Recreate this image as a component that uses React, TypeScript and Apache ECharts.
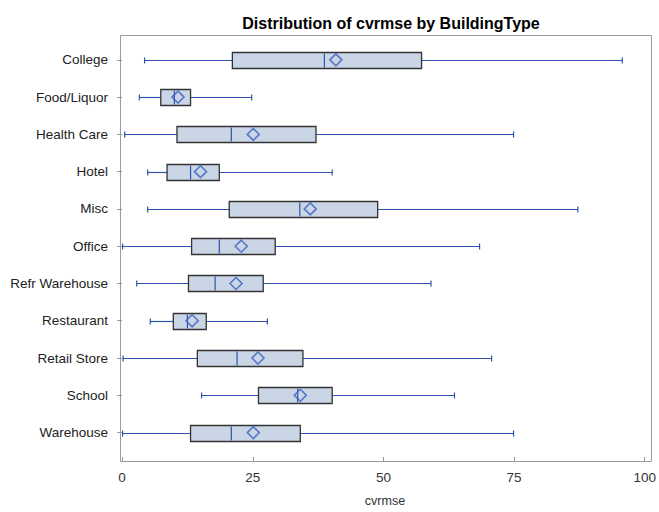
import React, { useEffect, useRef } from "react";
import * as echarts from "echarts";

const categories = [
  "College", "Food/Liquor", "Health Care", "Hotel", "Misc", "Office",
  "Refr Warehouse", "Restaurant", "Retail Store", "School", "Warehouse",
];
// [low whisker, Q1, median, Q3, high whisker]
const boxStats: number[][] = [
  [4.3, 21.1, 38.7, 57.3, 95.7],
  [3.3, 7.4, 10.0, 13.1, 24.8],
  [0.5, 10.5, 20.9, 37.1, 74.9],
  [4.9, 8.6, 13.1, 18.6, 40.2],
  [4.9, 20.5, 34.0, 48.9, 87.2],
  [0.1, 13.3, 18.6, 29.3, 68.4],
  [2.8, 12.7, 17.8, 27.0, 59.1],
  [5.4, 9.8, 12.5, 16.1, 27.8],
  [0.2, 14.4, 22.0, 34.6, 70.7],
  [15.2, 26.1, 33.6, 40.2, 63.6],
  [0.1, 13.1, 20.9, 34.1, 74.9],
];
const means = [40.9, 10.7, 25.1, 15.0, 36.0, 22.8, 21.8, 13.4, 26.0, 34.1, 25.1];
const xTicks = [0, 25, 50, 75, 100];

const FONT = "'Liberation Sans', Arial, sans-serif";
const LINE_BLUE = "#2f52b0";
const FILL = "#cad6e6";

export default function App() {
  const ref = useRef<HTMLDivElement>(null);
  useEffect(() => {
    if (!ref.current) return;
    const chart = echarts.init(ref.current, undefined, { renderer: "svg" });
    const option: any = {
      animation: false,
      backgroundColor: "#fff",
      title: {
        text: "Distribution of cvrmse by BuildingType",
        left: 386,
        textAlign: "center",
        top: 10,
        textStyle: { fontFamily: FONT, fontSize: 16, fontWeight: "bold", color: "#000" },
      },
      graphic: {
        elements: [
          {
            type: "rect",
            shape: { x: 120.5, y: 35.5, width: 531, height: 426 },
            style: { fill: "rgba(0,0,0,0)", stroke: "#9c9c9c", lineWidth: 1 },
            silent: true,
            z: 100,
          },
        ],
      },
      grid: { left: 120, right: 7, top: 41.2, bottom: 56.1, containLabel: false },
      xAxis: {
        type: "value",
        min: -0.4,
        max: 101,
        offset: 5.8,
        name: "cvrmse",
        nameLocation: "middle",
        nameGap: 37,
        nameTextStyle: { fontFamily: FONT, fontSize: 12.5, color: "#333" },
        axisLine: { show: false },
        axisTick: { show: true, length: 5, customValues: xTicks, lineStyle: { color: "#999" } },
        axisLabel: {
          customValues: xTicks,
          fontFamily: FONT,
          fontSize: 13.5,
          color: "#333",
          margin: 13,
        },
        splitLine: { show: false },
      },
      yAxis: {
        type: "category",
        data: categories,
        inverse: true,
        offset: 2,
        axisLine: { show: false },
        axisTick: { show: true, length: 5, alignWithLabel: true, lineStyle: { color: "#999" } },
        axisLabel: { fontFamily: FONT, fontSize: 13.5, color: "#222", margin: 10 },
        splitLine: { show: false },
      },
      series: [
        {
          type: "custom",
          data: boxStats.map((s, i) => [i, ...s]),
          encode: { y: 0, x: [1, 2, 3, 4, 5] },
          renderItem: (params: any, api: any) => {
            const idx = api.value(0);
            const lo = api.coord([api.value(1), idx]);
            const q1 = api.coord([api.value(2), idx]);
            const md = api.coord([api.value(3), idx]);
            const q3 = api.coord([api.value(4), idx]);
            const hi = api.coord([api.value(5), idx]);
            const y = Math.round(lo[1]) + 0.5;
            const bh = 16;
            const cap = 3;
            const lineStyle = { stroke: LINE_BLUE, lineWidth: 1.2 };
            return {
              type: "group",
              children: [
                { type: "line", shape: { x1: lo[0], y1: y, x2: q1[0], y2: y }, style: lineStyle },
                { type: "line", shape: { x1: q3[0], y1: y, x2: hi[0], y2: y }, style: lineStyle },
                { type: "line", shape: { x1: lo[0], y1: y - cap, x2: lo[0], y2: y + cap }, style: lineStyle },
                { type: "line", shape: { x1: hi[0], y1: y - cap, x2: hi[0], y2: y + cap }, style: lineStyle },
                {
                  type: "rect",
                  shape: { x: q1[0], y: y - bh / 2, width: q3[0] - q1[0], height: bh },
                  style: { fill: FILL, stroke: "#333", lineWidth: 1.3 },
                },
                { type: "line", shape: { x1: md[0], y1: y - bh / 2 + 1, x2: md[0], y2: y + bh / 2 - 1 }, style: lineStyle },
              ],
            };
          },
          z: 2,
        },
        {
          type: "scatter",
          data: means.map((m, i) => [m, i]),
          symbol: "diamond",
          symbolSize: [12, 12],
          itemStyle: { color: "rgba(0,0,0,0)", borderColor: "#3a5fc0", borderWidth: 1.6 },
          z: 3,
        },
      ],
    };
    chart.setOption(option);
    return () => chart.dispose();
  }, []);
  return (
    <div
      ref={ref}
      style={{ position: "absolute", left: 0, top: 0, width: 659, height: 512 }}
    />
  );
}
